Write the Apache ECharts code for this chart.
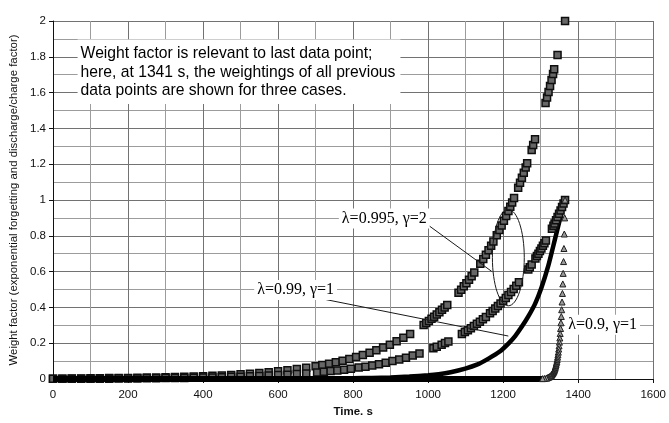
<!DOCTYPE html>
<html>
<head>
<meta charset="utf-8">
<script src="https://cdn.jsdelivr.net/npm/echarts/dist/echarts.min.js"></script>
<style>
  html, body { margin: 0; padding: 0; background: #fff; }
  #chart { width: 669px; height: 423px; }
</style>
</head>
<body>
<div id="chart"></div>
<script>
// Weighting of every earlier data point, seen from the last point (t = 1365 s)

// λ = 0.995, γ = 2 : points taken during discharge (doubled weight)
const case995Discharge = [
  [0,0.002],[25,0.002],[50,0.003],[75,0.003],[100,0.004],[125,0.004],[150,0.005],[175,0.005],
  [200,0.006],[225,0.007],[250,0.008],[275,0.009],[300,0.010],[325,0.011],[350,0.013],[375,0.014],
  [400,0.016],[425,0.018],[450,0.020],[475,0.023],[500,0.026],[525,0.030],[550,0.034],[575,0.038],
  [600,0.043],[625,0.049],[650,0.056],[675,0.063],
  [700,0.071],[718,0.078],[736,0.085],[754,0.094],[772,0.102],[790,0.112],[808,0.123],[826,0.134],
  [844,0.147],[862,0.161],[880,0.176],[898,0.192],[916,0.211],[934,0.231],[952,0.252],
  [988,0.302],[995,0.313],[1002,0.324],[1009,0.336],[1016,0.348],[1023,0.360],[1030,0.373],
  [1037,0.387],[1044,0.400],[1051,0.414],
  [1081,0.482],[1088,0.499],[1095,0.518],[1102,0.535],[1109,0.554],[1116,0.574],[1123,0.595],
  [1139,0.644],
  [1147,0.670],[1154,0.694],[1161,0.719],[1168,0.745],[1174,0.768],
  [1183,0.803],[1190,0.833],[1196,0.857],[1202,0.884],[1208,0.910],
  [1214,0.938],[1219,0.962],[1224,0.986],[1229,1.011],
  [1240,1.068],[1245,1.096],[1250,1.124],[1255,1.152],[1260,1.182],[1264,1.205],
  [1276,1.280],[1280,1.307],[1285,1.340],
  [1313,1.542],[1317,1.572],[1321,1.604],[1325,1.637],[1329,1.670],[1333,1.704],[1336,1.730],
  [1345,1.810],
  [1365,2.000]
];

// λ = 0.995 : points taken during charge (weight factor 1)
const case995Charge = [
  [0,0.001],[25,0.001],[50,0.001],[75,0.002],[100,0.002],[125,0.002],[150,0.002],[175,0.003],
  [200,0.003],[225,0.003],[250,0.004],[275,0.004],[300,0.005],[325,0.005],[350,0.006],[375,0.007],
  [400,0.008],[425,0.009],[450,0.010],[475,0.012],[500,0.013],[525,0.015],[550,0.017],[575,0.019],
  [600,0.022],[625,0.024],[650,0.028],[675,0.031],
  [704,0.036],[722,0.040],[740,0.044],[758,0.048],[776,0.052],[794,0.057],
  [815,0.064],[833,0.069],[851,0.076],[869,0.083],[887,0.091],[905,0.100],[923,0.109],[941,0.119],
  [959,0.131],[977,0.143],
  [1014,0.172],[1023,0.180],
  [1036,0.192],[1045,0.201],[1054,0.210],
  [1090,0.252],[1098,0.262],[1106,0.273],[1114,0.284],[1122,0.296],[1130,0.308],[1138,0.320],
  [1146,0.334],[1154,0.347],
  [1165,0.367],[1172,0.380],[1179,0.394],[1186,0.408],[1193,0.422],[1200,0.437],[1207,0.453],
  [1214,0.469],[1221,0.486],[1228,0.503],[1235,0.521],[1242,0.540],
  [1267,0.612],[1271,0.624],[1276,0.640],
  [1286,0.673],[1290,0.687],[1294,0.700],[1298,0.715],[1302,0.729],[1306,0.744],[1310,0.759],[1314,0.774],
  [1330,0.839],[1334,0.856],[1337,0.869],[1341,0.887],[1345,0.905],[1349,0.923],[1353,0.942],
  [1357,0.961],[1361,0.980],[1365,1.000]
];

// λ = 0.99, γ = 1 : dense points, drawn as a heavy curve
const case099 = [
  [0,0],[200,0],[400,0],[500,0.001],[600,0.001],[700,0.002],[800,0.004],[850,0.006],[900,0.009],
  [950,0.014],[1000,0.021],[1028,0.027],[1060,0.038],[1099,0.058],[1130,0.080],[1161,0.114],
  [1190,0.152],[1214,0.198],[1232,0.240],[1249,0.290],[1267,0.350],[1285,0.420],[1302,0.510],
  [1320,0.630],[1338,0.780],[1351,0.890],[1358,0.950],[1365,1.000]
];

// λ = 0.9, γ = 1 : the last seconds, one point per second
const case09Times = [
  1365,1364,1363,1362,1361,1360,1359,1358,1357,1356,1355,1354,1353,1352,1351,1350,1349,1348,1347,1346,
  1345,1344,1343,1342,1341,1340,1339,1338,1337,1336,1335,1334,1333,1332,1331,1330,1329,1328,1327,1326,
  1325,1323,1321,1319,1317,1315,1310,1305
];
const case09Weights = [
  1.000,0.900,0.810,0.729,0.656,0.590,0.531,0.478,0.430,0.387,0.349,0.314,0.282,0.254,0.229,0.206,
  0.185,0.167,0.150,0.135,0.122,0.109,0.098,0.089,0.080,0.072,0.065,0.058,0.052,0.047,0.042,0.038,
  0.034,0.031,0.028,0.025,0.022,0.020,0.018,0.016,0.015,0.012,0.010,0.008,0.006,0.005,0.003,0.002
];
// everything earlier is weighted at practically zero
const case09Tail = [[0,0],[1305,0]];

const xTicks = { min: 0, max: 1600, step: 200 };
const yTicks = { min: 0, max: 2, step: 0.2 };

const noteText = 'Weight factor is relevant to last data point;\n' +
  'here, at 1341 s, the weightings of all previous\n' +
  'data points are shown for three cases.';
const labelText995 = 'λ=0.995, γ=2';
const labelText099 = 'λ=0.99, γ=1';
const labelText09 = 'λ=0.9, γ=1';

const sansFont = '"Liberation Sans", Arial, Helvetica, sans-serif';
const serifFont = '"Liberation Serif", "Times New Roman", Times, serif';

const chart = echarts.init(document.getElementById('chart'), null, { renderer: 'canvas' });

const axisCommon = {
  type: 'value',
  nameLocation: 'middle',
  axisLine: { show: true, onZero: false, lineStyle: { color: '#111', width: 1 } },
  axisTick: { show: true, length: 4, lineStyle: { color: '#111' } },
  splitLine: { show: true, lineStyle: { color: '#727272', width: 1 } },
  minorTick: { show: false, splitNumber: 2 },
  minorSplitLine: { show: true, lineStyle: { color: '#9c9c9c', width: 1 } }
};

const squareStyle = { color: '#666666', borderColor: '#0e0e0e', borderWidth: 1.5, opacity: 1 };

const option = {
  animation: false,
  backgroundColor: '#ffffff',
  grid: { left: 53, top: 21, width: 602, height: 360, containLabel: false },
  xAxis: Object.assign({}, axisCommon, {
    min: xTicks.min, max: xTicks.max, interval: xTicks.step,
    name: 'Time. s', nameGap: 27,
    nameTextStyle: { fontFamily: sansFont, fontSize: 11.5, fontWeight: 'bold', color: '#111' },
    axisLabel: { fontFamily: sansFont, fontSize: 11.5, color: '#111', margin: 10,
      formatter: v => String(v) }
  }),
  yAxis: Object.assign({}, axisCommon, {
    min: yTicks.min, max: yTicks.max, interval: yTicks.step,
    name: 'Weight factor (exponential forgetting and discharge/charge factor)', nameGap: 29,
    nameTextStyle: { fontFamily: sansFont, fontSize: 11.4, color: '#111' },
    axisLabel: { fontFamily: sansFont, fontSize: 11.5, color: '#111', margin: 7 }
  }),
  series: [
    {
      name: labelText099, type: 'line', data: case099, smooth: 0.2,
      symbol: 'none', lineStyle: { color: '#000', width: 4.5 }, z: 3
    },
    {
      name: labelText995 + ' (discharge)', type: 'scatter', data: case995Discharge,
      symbol: 'rect', symbolSize: 7, itemStyle: squareStyle, z: 4
    },
    {
      name: labelText995 + ' (charge)', type: 'scatter', data: case995Charge,
      symbol: 'rect', symbolSize: 7, itemStyle: squareStyle, z: 4
    },
    {
      name: labelText09 + ' (earlier)', type: 'line', data: case09Tail,
      symbol: 'none', lineStyle: { color: '#000', width: 6 }, z: 5
    },
    {
      name: labelText09, type: 'scatter',
      data: case09Times.map((t, i) => [t, case09Weights[i]]),
      symbol: 'triangle', symbolSize: 6,
      itemStyle: { color: '#9a9a9a', borderColor: '#1e1e1e', borderWidth: 1, opacity: 1 }, z: 6
    }
  ]
};

chart.setOption(option);

// Annotations, anchored in data coordinates
const toPx = p => chart.convertToPixel({ gridIndex: 0 }, p);
const notePos = toPx([65.6, 1.897]);
const pos995 = toPx([762, 0.897]);
const pos099 = toPx([536.3, 0.497]);
const pos09 = toPx([1365.3, 0.303]);
const lead995 = [toPx([992, 0.872]), toPx([1169.5, 0.601])];
const lead099 = [toPx([695.6, 0.457]), toPx([1213.8, 0.240])];
const ringC = toPx([1213.8, 0.678]);
const ringX = toPx([1256.3, 0.678]);
const ringY = toPx([1213.8, 0.947]);

const serifLabel = (pos, text) => ({
  type: 'text', z: 110,
  style: {
    x: pos[0], y: pos[1], text: text,
    fontFamily: serifFont, fontSize: 16, fill: '#000',
    align: 'left', verticalAlign: 'middle',
    backgroundColor: '#fff', padding: [2, 3, 2, 3]
  }
});
const leader = (a, b) => ({
  type: 'line', z: 105,
  shape: { x1: a[0], y1: a[1], x2: b[0], y2: b[1] },
  style: { stroke: '#1a1a1a', lineWidth: 1 }
});

chart.setOption({
  graphic: [
    {
      type: 'text', z: 110,
      style: {
        x: notePos[0], y: notePos[1], text: noteText,
        fontFamily: sansFont, fontSize: 15.7, fill: '#000',
        align: 'left', verticalAlign: 'top', lineHeight: 18.5,
        backgroundColor: '#fff', padding: [5, 5, 4, 3]
      }
    },
    leader(lead995[0], lead995[1]),
    leader(lead099[0], lead099[1]),
    {
      type: 'ellipse', z: 105,
      shape: { cx: ringC[0], cy: ringC[1], rx: ringX[0] - ringC[0], ry: ringC[1] - ringY[1] },
      style: { fill: 'none', stroke: '#1a1a1a', lineWidth: 1 }
    },
    serifLabel(pos995, labelText995),
    serifLabel(pos099, labelText099),
    serifLabel(pos09, labelText09)
  ]
});
</script>
</body>
</html>
